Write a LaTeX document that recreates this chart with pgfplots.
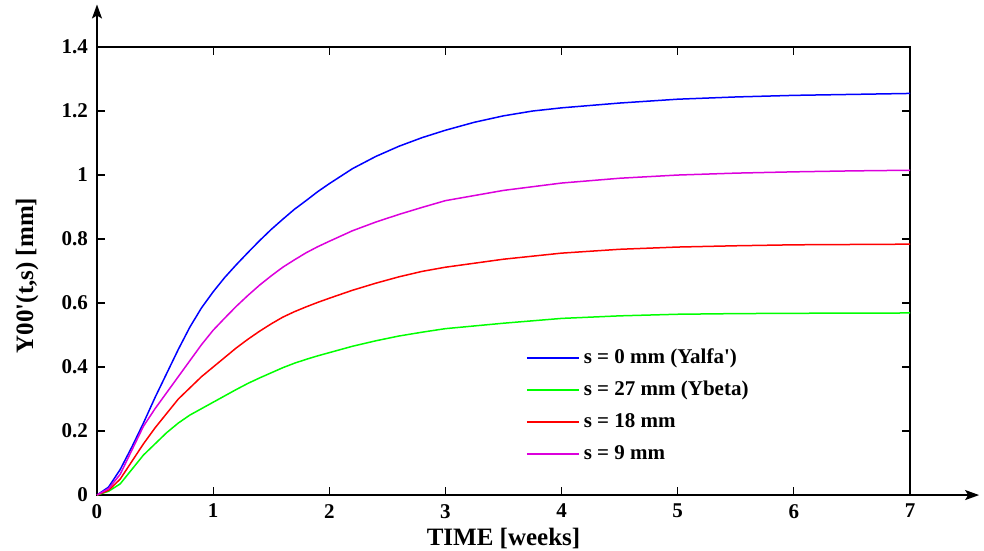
\documentclass[border=0pt]{standalone}
\usepackage{fontspec}
\setmainfont{Liberation Serif}
\usepackage{pgfplots}
\pgfplotsset{compat=1.18}
\usetikzlibrary{arrows.meta}
\definecolor{cblue}{RGB}{0,0,255}
\definecolor{cgreen}{RGB}{0,255,0}
\definecolor{cred}{RGB}{255,0,0}
\definecolor{cmag}{RGB}{220,0,220}
\begin{document}
\begin{tikzpicture}
\begin{axis}[
  scale only axis, width=406.5pt, height=224pt,
  xmin=0, xmax=7, ymin=0, ymax=1.4,
  xtick={0,1,...,7}, ytick={0,0.2,...,1.4},
  tick align=inside, major tick length=4pt,
  xtick pos=both, ytick pos=both,
  axis line style={line width=0.8pt},
  every tick/.style={black, line width=0.6pt},
  /pgf/number format/assume math mode=true,
  tick label style={font=\fontsize{10.5}{12}\bfseries},
  xticklabel style={yshift=-1pt},
  yticklabel style={xshift=-1pt},
  xlabel={TIME [weeks]}, ylabel={Y00\textquotesingle(t,s) [mm]},
  label style={font=\fontsize{12.5}{14}\bfseries},
  xlabel style={at={(rel axis cs:0.5,-0.096)}, anchor=center},
  ylabel style={at={(rel axis cs:-0.086,0.49)}, anchor=center},
  clip=false,
  legend cell align=left,
  legend style={at={(rel axis cs:0.52,0.345)}, anchor=north west, draw=none, fill=none,
    font=\fontsize{10.5}{12}\bfseries, row sep=3.35pt},
  legend image code/.code={\draw[#1, line width=0.8pt] (0pt,0pt) -- (26pt,0pt);},
]
\addplot[color=cblue, line width=0.75pt] coordinates {
(0,0)(0.1,0.025)(0.2,0.08)(0.3,0.15)(0.4,0.225)(0.5,0.305)(0.6,0.38)(0.7,0.455)
(0.8,0.525)(0.9,0.585)(1.0,0.635)(1.1,0.68)(1.2,0.72)(1.3,0.758)(1.4,0.795)
(1.5,0.83)(1.6,0.862)(1.7,0.893)(1.8,0.92)(1.9,0.948)(2.0,0.973)(2.2,1.02)
(2.4,1.058)(2.6,1.09)(2.8,1.117)(3.0,1.14)(3.25,1.165)(3.5,1.185)
(3.75,1.2)(4.0,1.21)(4.5,1.225)(5.0,1.237)(5.5,1.244)(6.0,1.249)(6.5,1.252)(7.0,1.255)};
\addlegendentry{s = 0 mm (Yalfa\textquotesingle)}
\addplot[color=cgreen, line width=0.75pt] coordinates {
(0,0)(0.1,0.012)(0.2,0.035)(0.3,0.08)(0.4,0.125)(0.5,0.16)(0.6,0.195)(0.7,0.225)
(0.8,0.25)(0.9,0.27)(1.0,0.29)(1.1,0.31)(1.2,0.33)(1.3,0.349)(1.4,0.366)
(1.5,0.382)(1.6,0.398)(1.7,0.412)(1.8,0.424)(1.9,0.435)(2.0,0.445)(2.2,0.465)
(2.4,0.482)(2.6,0.497)(2.8,0.509)(3.0,0.52)(3.5,0.537)(4.0,0.552)(4.5,0.56)
(5.0,0.565)(5.5,0.567)(6.0,0.568)(7.0,0.569)};
\addlegendentry{s = 27 mm (Ybeta)}
\addplot[color=cred, line width=0.75pt] coordinates {
(0,0)(0.1,0.015)(0.2,0.05)(0.3,0.105)(0.4,0.16)(0.5,0.21)(0.6,0.255)(0.7,0.3)
(0.8,0.335)(0.9,0.37)(1.0,0.4)(1.1,0.43)(1.2,0.46)(1.3,0.487)(1.4,0.512)
(1.5,0.535)(1.6,0.556)(1.7,0.573)(1.8,0.588)(1.9,0.602)(2.0,0.615)(2.2,0.64)
(2.4,0.662)(2.6,0.682)(2.8,0.699)(3.0,0.712)(3.5,0.737)(4.0,0.756)(4.5,0.768)
(5.0,0.775)(5.5,0.779)(6.0,0.782)(7.0,0.784)};
\addlegendentry{s = 18 mm}
\addplot[color=cmag, line width=0.75pt] coordinates {
(0,0)(0.1,0.02)(0.2,0.065)(0.3,0.14)(0.4,0.215)(0.5,0.27)(0.6,0.32)(0.7,0.37)
(0.8,0.42)(0.9,0.47)(1.0,0.515)(1.1,0.553)(1.2,0.59)(1.3,0.624)(1.4,0.656)
(1.5,0.685)(1.6,0.712)(1.7,0.735)(1.8,0.757)(1.9,0.776)(2.0,0.793)(2.2,0.826)
(2.4,0.853)(2.6,0.877)(2.8,0.899)(3.0,0.92)(3.5,0.952)(4.0,0.975)(4.5,0.99)
(5.0,1.0)(5.5,1.006)(6.0,1.01)(6.5,1.013)(7.0,1.015)};
\addlegendentry{s = 9 mm}
\draw[line width=0.8pt, -{Stealth[length=7pt,width=5pt,inset=1.5pt]}] (rel axis cs:1,0) -- (rel axis cs:1.085,0);
\draw[line width=0.8pt, -{Stealth[length=7pt,width=5pt,inset=1.5pt]}] (rel axis cs:0,1) -- (rel axis cs:0,1.095);
\coordinate (bl) at (rel axis cs:-0.1193,-0.1228);
\coordinate (tr) at (rel axis cs:1.091,1.105);
\end{axis}
\pgfresetboundingbox
\path (bl) rectangle (tr);
\end{tikzpicture}
\end{document}
